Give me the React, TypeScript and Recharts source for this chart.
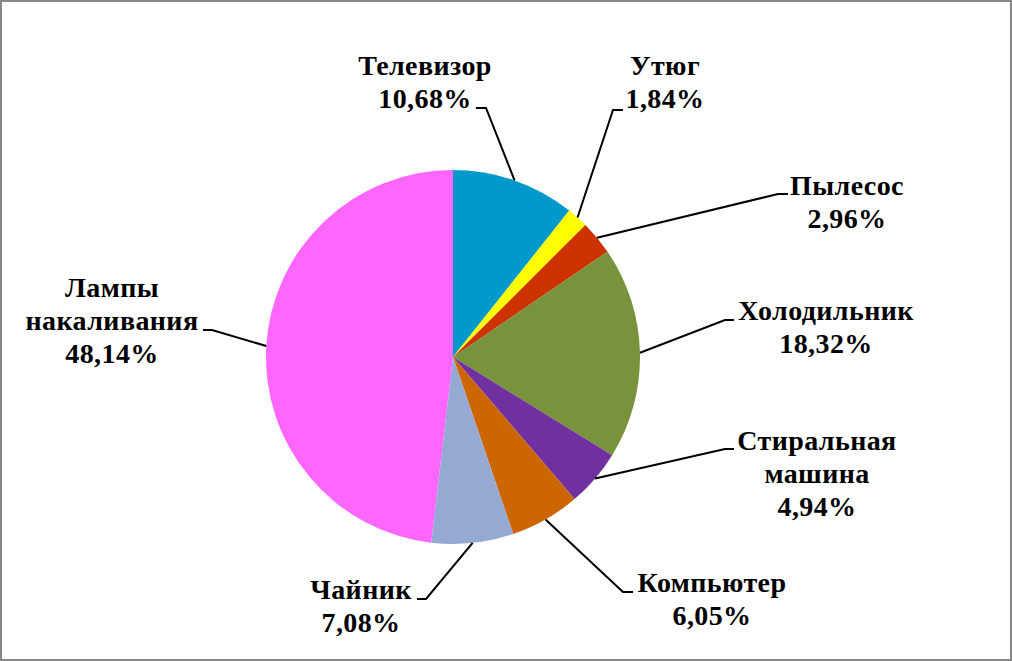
import { PieChart, Pie, Cell } from 'recharts'

const categories = ['Телевизор', 'Утюг', 'Пылесос', 'Холодильник', 'Стиральная машина', 'Компьютер', 'Чайник', 'Лампы накаливания']
const shares = [10.68, 1.84, 2.96, 18.32, 4.94, 6.05, 7.08, 48.14]
const colors = ['#0099CC', '#FFFF00', '#CC3300', '#77933C', '#7030A0', '#CC6600', '#95A9D2', '#FF66FF']
// how each label's text is broken into lines
const nameLines = [['Телевизор'], ['Утюг'], ['Пылесос'], ['Холодильник'], ['Стиральная', 'машина'], ['Компьютер'], ['Чайник'], ['Лампы', 'накаливания']]

// label placement: knee of the leader, end of its short horizontal tail, text centre and first baseline
const labelLayout = [
  { kx: 486, ky: 108, tx: 476, cx: 425, by: 75 },
  { kx: 613, ky: 110, tx: 623, cx: 665, by: 75 },
  { kx: 778, ky: 194, tx: 788, cx: 847, by: 195 },
  { kx: 725, ky: 320, tx: 734, cx: 826, by: 320 },
  { kx: 725, ky: 449, tx: 734, cx: 817, by: 450 },
  { kx: 623, ky: 592, tx: 633, cx: 712, by: 592 },
  { kx: 426, ky: 599, tx: 417, cx: 361, by: 599 },
  { kx: 212, ky: 330, tx: 203, cx: 112, by: 297 },
]

const data = categories.map((name, i) => ({ name, value: shares[i] }))

const RAD = Math.PI / 180
const fmt = (v: number) => v.toFixed(2).replace('.', ',') + '%'

// leader lines come from the pie's own geometry
function renderLeader(props: any) {
  const { cx, cy, midAngle, outerRadius, index } = props
  const sx = cx + outerRadius * Math.cos(-midAngle * RAD)
  const sy = cy + outerRadius * Math.sin(-midAngle * RAD)
  const l = labelLayout[index]
  return (
    <polyline key={index} points={`${sx},${sy} ${l.kx},${l.ky} ${l.tx},${l.ky}`} fill="none" stroke="#000" strokeWidth={2} />
  )
}

export default function App() {
  return (
    <div style={{ position: 'relative', width: 1012, height: 661, background: '#fff' }}>
      <style>{'body{margin:0}'}</style>
      <PieChart width={1012} height={661} margin={{ top: 0, right: 0, bottom: 0, left: 0 }}>
        <Pie data={data} dataKey="value" nameKey="name" cx={453} cy={357} outerRadius={187}
          startAngle={90} endAngle={-270} stroke="none" label={renderLeader} labelLine={false}
          isAnimationActive={false}>
          {data.map((d, i) => <Cell key={d.name} fill={colors[i]} />)}
        </Pie>
      </PieChart>
      <svg width={1012} height={661} style={{ position: 'absolute', left: 0, top: 0, pointerEvents: 'none' }}>
        {labelLayout.map((l, i) =>
          [...nameLines[i], fmt(shares[i])].map((t, j) => (
            <text key={`${i}-${j}`} x={l.cx} y={l.by + j * 33} textAnchor="middle" fontFamily="Liberation Serif"
              fontWeight="bold" fontSize={28} letterSpacing={0.4} fill="#000">{t}</text>
          ))
        )}
      </svg>
      <div style={{ position: 'absolute', left: 0, top: 0, width: 1012, height: 661, boxSizing: 'border-box', border: '2px solid #888', pointerEvents: 'none' }} />
    </div>
  )
}
